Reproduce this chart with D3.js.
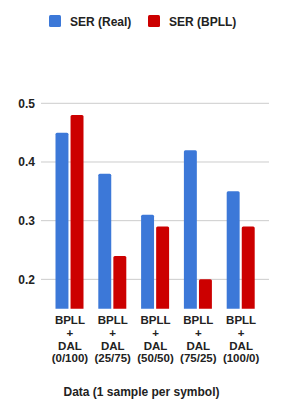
<!DOCTYPE html>
<html><head><meta charset="utf-8">
<script src="https://cdn.jsdelivr.net/npm/d3@7"></script>
<style>body{margin:0;background:#fff}svg{display:block;font-family:"Liberation Sans",Arial,sans-serif}</style>
</head><body><svg id="c" width="284" height="406"></svg>
<script>
const categories = ["(0/100)","(25/75)","(50/50)","(75/25)","(100/0)"];
const seriesNames = ["SER (Real)","SER (BPLL)"];
const serReal = [0.45,0.38,0.31,0.42,0.35];
const serBPLL = [0.48,0.24,0.29,0.20,0.29];
const yTicks = [0.2,0.3,0.4,0.5];
const colors = ["#3c78d8","#cc0000"];
const xTitle = "Data (1 sample per symbol)";

(function(){
const svg = d3.select("#c");
const pl=41,pr=269,pt=103.3,pb=308.7;
const y = d3.scaleLinear().domain([0.15,0.5]).range([pb,pt]);
const x0 = d3.scaleBand().domain(categories).range([48.5,262.5]).paddingInner(0).paddingOuter(0);
const x1 = d3.scaleBand().domain(seriesNames).range([7,35]).paddingInner(0.14);

svg.append("g").selectAll("line").data(yTicks).join("line")
 .attr("x1",pl).attr("x2",pr).attr("y1",d=>y(d)).attr("y2",d=>y(d))
 .attr("stroke","#cccccc").attr("stroke-width",1);
svg.append("g").selectAll("text").data(yTicks).join("text")
 .attr("x",35).attr("y",d=>y(d)+4.2).attr("text-anchor","end")
 .attr("font-size",12).attr("font-weight","bold").attr("fill","#222").text(d=>d.toFixed(1));

const rows = categories.map((c,i)=>({c,vals:[serReal[i],serBPLL[i]]}));
const g = svg.append("g").selectAll("g").data(rows).join("g").attr("transform",d=>`translate(${x0(d.c)},0)`);
g.selectAll("path").data(d=>d.vals.map((v,j)=>({v,j}))).join("path")
 .attr("fill",d=>colors[d.j])
 .attr("d",d=>{const xx=x1(seriesNames[d.j]),w=x1.bandwidth(),yt=y(d.v),r=1.5;
   return `M${xx},${pb}V${yt+r}Q${xx},${yt} ${xx+r},${yt}H${xx+w-r}Q${xx+w},${yt} ${xx+w},${yt+r}V${pb}Z`;});

const lab = svg.append("g").selectAll("text").data(categories).join("text")
 .attr("text-anchor","middle").attr("font-size",11.5).attr("font-weight","bold").attr("fill","#222")
 .attr("transform",d=>`translate(${x0(d)+x0.bandwidth()/2},0)`);
lab.each(function(d){const t=d3.select(this);
 ["BPLL","+","DAL",d].forEach((s,k)=>t.append("tspan").attr("x",0).attr("y",324+k*12.8).text(s));});

svg.append("text").attr("x",141.5).attr("y",395.5).attr("text-anchor","middle")
 .attr("font-size",12).attr("font-weight","bold").attr("fill","#222").text(xTitle);

const lg = svg.append("g");
const lx=[49,148];
seriesNames.forEach((s,j)=>{
 lg.append("rect").attr("x",lx[j]).attr("y",15).attr("width",12).attr("height",12).attr("rx",1.5).attr("fill",colors[j]);
 lg.append("text").attr("x",lx[j]+21).attr("y",25.5).attr("font-size",12).attr("font-weight","bold").attr("fill","#222").text(s);
});
})();
</script></body></html>
